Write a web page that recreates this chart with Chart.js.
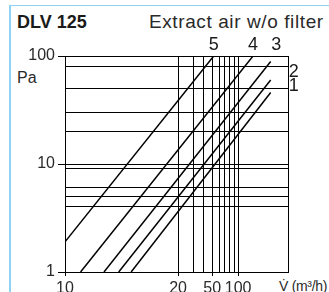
<!DOCTYPE html>
<html>
<head>
<meta charset="utf-8">
<script src="https://cdn.jsdelivr.net/npm/chart.js@4/dist/chart.umd.min.js"></script>
<style>
  html, body { margin: 0; padding: 0; background: #fff; }
  #wrap { position: relative; width: 329px; height: 292px; overflow: hidden; font-family: "Liberation Sans", Arial, sans-serif; color: #1a1a1a; }
  #frame { position: absolute; left: 9px; top: 5px; right: 0; bottom: 0; border-top: 1.5px solid #8fd3f1; border-left: 2px solid #8fd3f1; }
  .txt { position: absolute; white-space: nowrap; }
  #title { left: 17px; top: 13px; font-size: 18px; font-weight: bold; line-height: 18px; }
  #subtitle { left: 149px; top: 12px; font-size: 19px; letter-spacing: 0.6px; line-height: 19px; color: #2a2a2a; }
  #unitY { left: 17px; top: 70px; font-size: 16px; line-height: 16px; color: #2a2a2a; }
  #unitX { left: 279px; top: 279px; font-size: 14px; line-height: 14px; letter-spacing: -0.3px; color: #2a2a2a; }
  canvas { position: absolute; left: 0; top: 0; }
</style>
</head>
<body>
<div id="wrap">
  <div id="frame"></div>
  <div class="txt" id="title">DLV 125</div>
  <div class="txt" id="subtitle">Extract air w/o filter</div>
  <div class="txt" id="unitY">Pa</div>
  <div class="txt" id="unitX">V&#775; (m³/h)</div>
  <canvas id="chart" width="329" height="292"></canvas>
</div>
<script>
// curves 1..5, each a straight line on the chart: start and end point
const curveNames = ['1', '2', '3', '4', '5'];
const flowFrom = [15, 13.9, 12.7, 11, 10];
const pressFrom = [1, 1, 1, 1, 1.9];
const flowTo = [239, 239, 239, 149, 52];
const pressTo = [46, 60, 89, 100, 100];

const xGridValues = [10, 20, 30, 40, 50, 60, 70, 80, 90, 100, 380];
const xTickLabels = [10, 20, 50, 100];
const yGridValues = [1, 4, 5, 6, 9, 10, 20, 30, 50, 80, 100];
const yTickLabels = [1, 10, 100];

// where the curve numbers sit, relative to the end of each curve (px)
const labelShift = [[23, -6], [23, -8], [5.5, -16], [0, -11], [0, -11]];

// the flow axis in the original is broken: 10..20 takes half the width, 20..max is log on the rest
const SPLIT_AT = 20;
const SPLIT_SHARE = 0.507;

class SplitLogScale extends Chart.LinearScale {
  static id = 'splitLog';
  buildTicks() {
    return xGridValues.map(v => ({ value: v }));
  }
  toDecimal(v) {
    if (v <= SPLIT_AT) return SPLIT_SHARE * Math.log(v / this.min) / Math.log(SPLIT_AT / this.min);
    return SPLIT_SHARE + (1 - SPLIT_SHARE) * Math.log(v / SPLIT_AT) / Math.log(this.max / SPLIT_AT);
  }
  getPixelForValue(v) {
    return v == null ? NaN : this.getPixelForDecimal(this.toDecimal(v));
  }
  getValueForPixel(px) {
    const d = this.getDecimalForPixel(px);
    if (d <= SPLIT_SHARE) return this.min * Math.pow(SPLIT_AT / this.min, d / SPLIT_SHARE);
    return SPLIT_AT * Math.pow(this.max / SPLIT_AT, (d - SPLIT_SHARE) / (1 - SPLIT_SHARE));
  }
}
Chart.register(SplitLogScale);

const curveLabels = {
  id: 'curveLabels',
  afterDatasetsDraw(chart) {
    const { ctx, scales: { x, y } } = chart;
    ctx.save();
    ctx.font = '18px "Liberation Sans Narrow", "Liberation Sans", sans-serif';
    ctx.fillStyle = '#1a1a1a';
    ctx.textAlign = 'center';
    ctx.textBaseline = 'middle';
    curveNames.forEach((name, i) => {
      const px = x.getPixelForValue(flowTo[i]) + labelShift[i][0];
      const py = y.getPixelForValue(pressTo[i]) + labelShift[i][1];
      ctx.fillText(name, px, py);
    });
    ctx.restore();
  }
};

const tickFont = { family: '"Liberation Sans", Arial, sans-serif', size: 16 };

new Chart(document.getElementById('chart'), {
  type: 'line',
  data: {
    datasets: curveNames.map((name, i) => ({
      label: name,
      data: [{ x: flowFrom[i], y: pressFrom[i] }, { x: flowTo[i], y: pressTo[i] }],
      borderColor: '#000',
      borderWidth: 1.5,
      pointRadius: 0,
      fill: false,
      tension: 0
    }))
  },
  options: {
    responsive: false,
    animation: false,
    devicePixelRatio: 1,
    layout: { padding: { top: 56, right: 41, left: 0, bottom: 0 } },
    plugins: { legend: { display: false }, tooltip: { enabled: false } },
    scales: {
      x: {
        type: 'splitLog',
        min: 10,
        max: 380,
        afterFit: s => { s.height = 20; },
        border: { color: '#000', width: 1 },
        grid: {
          color: '#000',
          lineWidth: 1,
          tickLength: 4,
          tickColor: c => xTickLabels.includes(c.tick.value) ? '#000' : 'rgba(0,0,0,0)'
        },
        ticks: {
          autoSkip: false,
          maxRotation: 0,
          padding: 3,
          color: '#2a2a2a',
          font: tickFont,
          callback: v => xTickLabels.includes(v) ? String(v) : ''
        }
      },
      y: {
        type: 'logarithmic',
        min: 1,
        max: 100,
        afterBuildTicks: s => { s.ticks = yGridValues.map(v => ({ value: v })); },
        afterFit: s => { s.width = 65; },
        border: { color: '#000', width: 1 },
        grid: {
          color: '#000',
          lineWidth: 1,
          tickLength: 7,
          tickColor: c => yTickLabels.includes(c.tick.value) ? '#000' : 'rgba(0,0,0,0)'
        },
        ticks: {
          autoSkip: false,
          padding: 3,
          color: '#2a2a2a',
          font: tickFont,
          callback: v => yTickLabels.includes(v) ? String(v) : ''
        }
      }
    }
  },
  plugins: [curveLabels]
});
</script>
</body>
</html>
